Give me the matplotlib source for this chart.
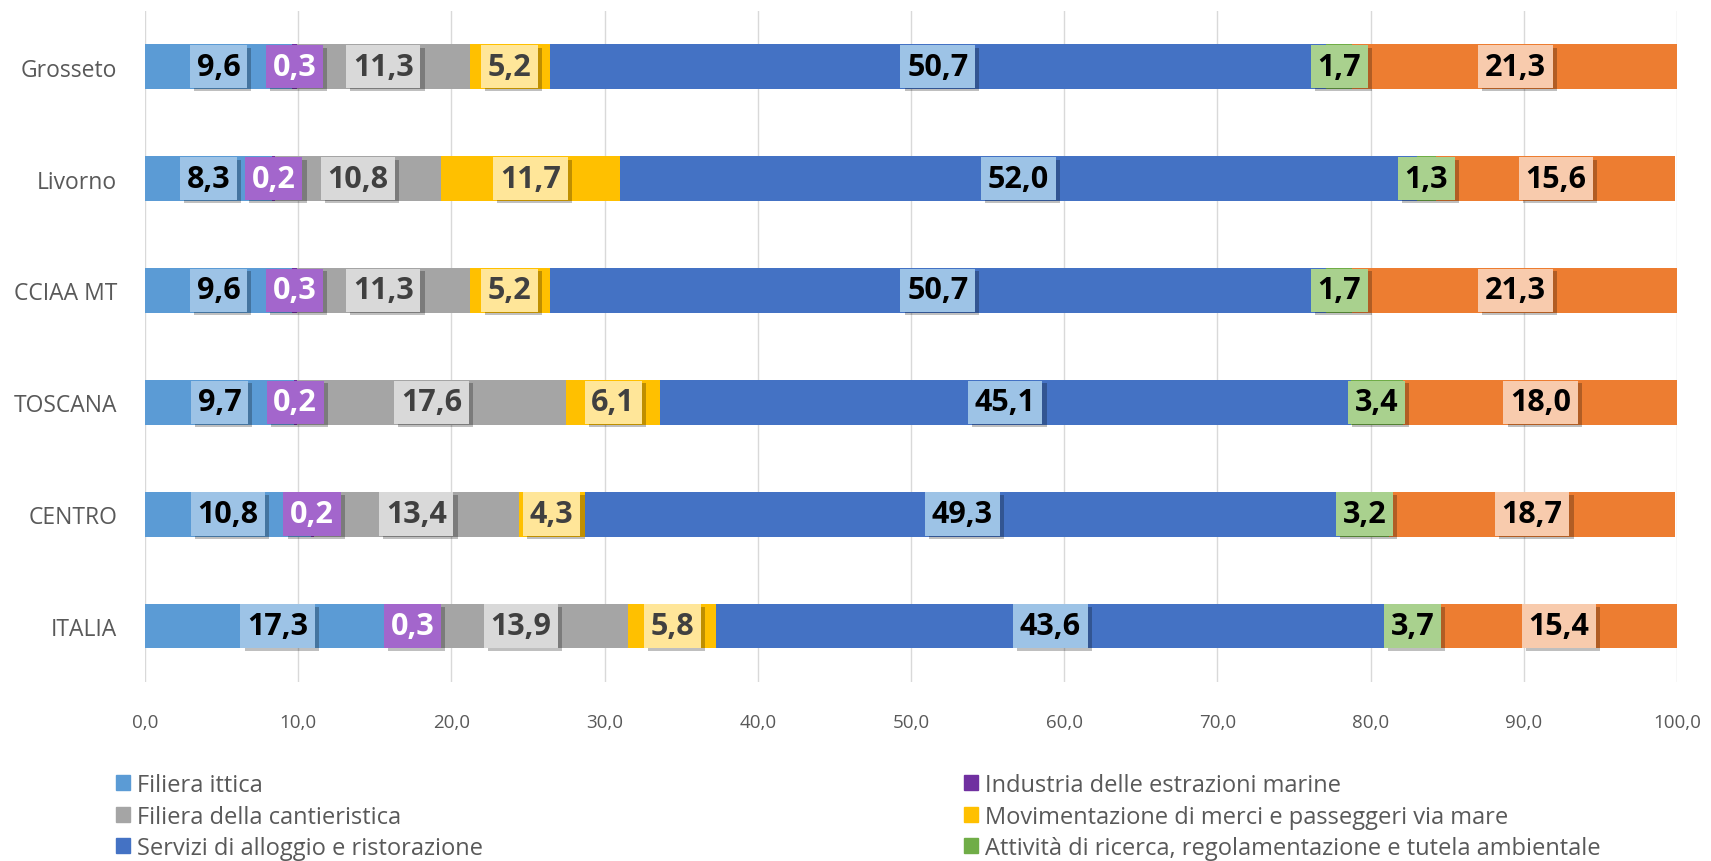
import matplotlib
matplotlib.use("Agg")
import matplotlib.pyplot as plt
import matplotlib.patheffects as pe
from matplotlib.patches import Patch
import numpy as np

plt.rcParams['font.family'] = ['Open Sans', 'DejaVu Sans']

regions = ['Grosseto', 'Livorno', 'CCIAA MT', 'TOSCANA', 'CENTRO', 'ITALIA']
series = ['Filiera ittica', 'Industria delle estrazioni marine', 'Filiera della cantieristica',
          'Movimentazione di merci e passeggeri via mare', 'Servizi di alloggio e ristorazione',
          'Attività di ricerca, regolamentazione e tutela ambientale', 'Turismo costiero']

ittica = [9.6, 8.3, 9.6, 9.7, 10.8, 17.3]
estrazioni = [0.3, 0.2, 0.3, 0.2, 0.2, 0.3]
cantieristica = [11.3, 10.8, 11.3, 17.6, 13.4, 13.9]
movimentazione = [5.2, 11.7, 5.2, 6.1, 4.3, 5.8]
alloggio = [50.7, 52.0, 50.7, 45.1, 49.3, 43.6]
ricerca = [1.7, 1.3, 1.7, 3.4, 3.2, 3.7]
turismo = [21.3, 15.6, 21.3, 18.0, 18.7, 15.4]

values = [ittica, estrazioni, cantieristica, movimentazione, alloggio, ricerca, turismo]
bar_colors = ['#5B9BD5', '#7030A0', '#A5A5A5', '#FFC000', '#4472C4', '#70AD47', '#ED7D31']
box_colors = ['#9DC3E6', '#A366CC', '#D9D9D9', '#FFE699', '#9DC3E6', '#A9D18E', '#F8CBAD']
text_colors = ['black', 'white', '#404040', '#404040', 'black', 'black', 'black']

fig = plt.figure(figsize=(17.11, 8.62), dpi=100)
ax = fig.add_axes([0.0848, 0.2077, 0.8953, 0.7787])

y = np.arange(len(regions))[::-1]
left = np.zeros(len(regions))
for i, vals in enumerate(values):
    vals = np.array(vals)
    ax.barh(y, vals, left=left, height=0.4, color=bar_colors[i], zorder=2)
    for yy, l, v in zip(y, left, vals):
        t = ax.text(l + v / 2, yy, f"{v:.1f}".replace('.', ','), ha='center', va='center',
                    fontsize=22, fontweight='bold', color=text_colors[i], zorder=5,
                    bbox=dict(boxstyle='square,pad=0.22', fc=box_colors[i], ec='none'))
        t.get_bbox_patch().set_path_effects([
            pe.SimplePatchShadow(offset=(3, -2), shadow_rgbFace='black', alpha=0.25),
            pe.Normal()])
    left += vals

ax.set_xlim(0, 100)
ax.set_ylim(-0.5, len(regions) - 0.5)
ax.set_xticks(np.arange(0, 101, 10))
ax.set_xticklabels([f"{v:.1f}".replace('.', ',') for v in np.arange(0, 101, 10)],
                   fontsize=13.5, color='#595959')
ax.set_yticks(y)
ax.set_yticklabels(regions, fontsize=16.5, color='#595959')
ax.tick_params(axis='y', length=0, pad=20)
ax.tick_params(axis='x', length=0, pad=22)
ax.grid(axis='x', color='#D9D9D9', linewidth=1, zorder=0)
ax.set_axisbelow(True)
for s in ax.spines.values():
    s.set_visible(False)

handles = [Patch(color=c) for c in bar_colors]
leg_kw = dict(frameon=False, fontsize=17, labelcolor='#595959', handlelength=0.6,
              handleheight=0.6, handletextpad=0.3, labelspacing=0.32, borderaxespad=0)
leg1 = fig.legend([handles[0], handles[2], handles[4]], [series[0], series[2], series[4]],
                  loc='upper left', bbox_to_anchor=(0.062, 0.113), **leg_kw)
leg2 = fig.legend([handles[1], handles[3], handles[5]], [series[1], series[3], series[5]],
                  loc='upper left', bbox_to_anchor=(0.558, 0.113), **leg_kw)

fig.savefig('out.png', dpi=100)
